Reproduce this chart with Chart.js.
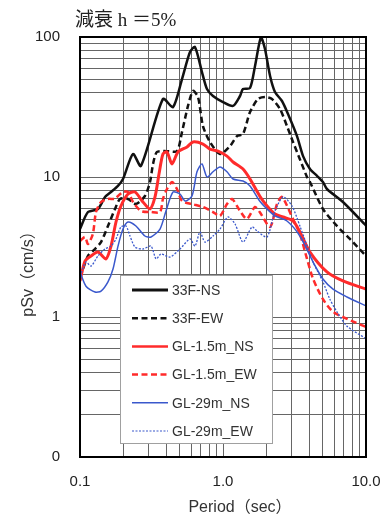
<!DOCTYPE html>
<html><head><meta charset="utf-8">
<script src="https://cdn.jsdelivr.net/npm/chart.js@4"></script>
<style>html,body{margin:0;padding:0;background:#fff;}#wrap{width:383px;height:518px;}</style>
</head><body><div id="wrap"><canvas id="c" width="383" height="518"></canvas></div>
<script>
// ---- data (period in sec, pSv in cm/s) ----
const seriesNames = ['33F-NS','33F-EW','GL-1.5m_NS','GL-1.5m_EW','GL-29m_NS','GL-29m_EW'];

const period_33F_NS = [0.1,0.1137,0.1336,0.1496,0.1648,0.1842,0.1998,0.2348,0.2669,0.3803,0.447,0.517,0.5877,0.637,0.7127,0.7726,0.8512,1.0,1.175,1.315,1.38,1.545,1.675,1.844,1.966,2.134,2.309,2.585,2.848,3.292,3.63,4.056,4.543,5.0,5.33,6.9,10];
const psv_33F_NS = [4.25,5.62,5.91,7.2,7.81,8.63,9.68,14.6,12.0,36.1,31.6,50.1,78.1,84.8,56.2,42.5,37.9,34.3,32.2,37.9,42.5,43.2,62.1,100,82.1,52.7,40.5,34.9,28.2,19.6,14.1,11.4,10.2,9.21,8.21,6.63,4.5];

const period_33F_EW = [0.1,0.1049,0.1137,0.1273,0.1403,0.1569,0.1757,0.1905,0.2166,0.2462,0.2845,0.3087,0.3243,0.3455,0.4058,0.4767,0.517,0.569,0.6168,0.6686,0.7243,0.8105,0.9529,1.119,1.253,1.38,1.545,1.757,1.966,2.2,2.504,2.802,3.087,3.449,3.868,4.056,5.0,6.26,7.72,10];
const psv_33F_EW = [1.93,2.2,2.73,3.06,3.43,4.47,5.91,6.97,6.97,6.41,7.32,9.21,12.4,15.1,15.3,15.3,21.0,32.2,41.2,37.3,23.1,17.8,14.6,16.6,19.6,20.3,29.1,36.1,37.3,36.1,30.6,23.1,17.8,13.4,10.0,9.21,5.91,4.47,3.61,2.73];

const period_GL15_NS = [0.1,0.1084,0.1194,0.1336,0.152,0.1648,0.1785,0.1934,0.2166,0.2424,0.2756,0.3087,0.3346,0.3568,0.3803,0.4058,0.4399,0.4845,0.5603,0.6168,0.7243,0.8105,0.9226,1.066,1.175,1.38,1.545,1.805,2.033,2.309,2.63,3.087,3.449,4.056,5.33,6.9,10];
const psv_GL15_NS = [1.81,2.51,2.73,2.91,2.6,3.21,4.77,6.21,7.56,7.81,6.63,5.91,7.2,10.5,14.6,15.1,12.4,15.1,16.4,17.8,17.2,15.8,15.3,14.1,12.8,11.4,9.68,7.32,6.21,5.44,5.18,4.85,4.05,2.91,2.1,1.81,1.58];

const period_GL15_EW = [0.1,0.1084,0.1137,0.123,0.1294,0.1403,0.1569,0.1757,0.1844,0.1998,0.2166,0.2348,0.2669,0.3137,0.3626,0.3803,0.4058,0.4399,0.4767,0.517,0.6069,0.7243,0.8512,0.9529,1.066,1.156,1.315,1.468,1.675,1.805,2.134,2.386,2.585,3.087,3.449,3.868,4.265,5.0,5.88,7.36,10];
const psv_GL15_EW = [3.49,3.73,3.32,3.92,5.62,6.63,6.97,6.97,7.32,7.81,7.81,6.63,5.72,5.62,5.62,6.97,8.21,9.21,8.21,6.74,6.41,6.11,5.62,5.27,6.41,6.97,5.72,5.01,6.11,5.62,4.4,6.41,7.2,5.01,3.92,2.6,1.87,1.34,1.09,0.97,0.85];

const period_GL29_NS = [0.1,0.1101,0.1273,0.1403,0.1569,0.1701,0.1844,0.1998,0.2166,0.2462,0.2845,0.3137,0.3626,0.3993,0.447,0.5004,0.5424,0.6069,0.6579,0.7127,0.7726,0.8512,0.9529,1.066,1.175,1.38,1.545,1.805,2.033,2.309,2.802,3.449,4.265,5.0,5.88,7.36,10];
const psv_GL29_NS = [2.1,1.66,1.51,1.53,1.78,2.2,3.21,4.25,4.77,4.47,3.79,3.73,4.25,5.72,7.81,7.56,6.74,7.32,10.9,12.4,10.0,10.9,11.8,10.9,9.68,9.36,8.63,6.74,5.91,5.27,4.85,3.79,2.47,1.87,1.58,1.39,1.2];

const period_GL29_EW = [0.1,0.1101,0.1194,0.1336,0.1496,0.1648,0.1785,0.1934,0.2098,0.2236,0.2424,0.2756,0.3137,0.3402,0.3683,0.426,0.5004,0.5877,0.637,0.6902,0.748,0.8512,0.9529,1.084,1.213,1.38,1.596,1.73,2.033,2.309,2.63,3.037,3.449,4.265,5.0,5.59,6.26,7.36,10];
const psv_GL29_EW = [1.96,2.47,2.31,2.73,3.06,3.21,3.61,4.4,4.47,3.79,3.16,3.06,3.21,2.6,2.82,2.68,3.06,3.61,3.21,4.05,3.43,3.79,4.25,5.18,4.62,3.43,4.4,4.11,3.73,5.72,7.2,6.21,4.47,2.47,1.78,1.34,1.09,0.86,0.7];

const xTickValues = [0.1, 1, 10];
const xTickLabels = ['0.1', '1.0', '10.0'];
const yTickValues = [0.1, 1, 10, 100];
const yTickLabels = ['0', '1', '10', '100'];

const chartTitle = '減衰 h ＝5%';
const xTitle = 'Period（sec）';
const yTitle = 'pSv（cm/s）';

// ---- helpers ----
function pts(xs, ys) { return xs.map((x, i) => ({x: x, y: ys[i]})); }
function gridVals(minExp, maxExp) {
  const out = [];
  for (let e = minExp; e < maxExp; e++) {
    for (let m = 1; m <= 9; m++) out.push(Number((m * Math.pow(10, e)).toPrecision(3)));
  }
  out.push(Number(Math.pow(10, maxExp).toPrecision(3)));
  return out;
}
function labelFor(v, vals, labels) {
  for (let i = 0; i < vals.length; i++) if (Math.abs(v - vals[i]) < 1e-9 * Math.max(1, vals[i])) return labels[i];
  return '';
}
function zeroPad(s) { s.paddingLeft = 0; s.paddingRight = 0; s.paddingTop = 0; s.paddingBottom = 0; }

const BLACK = '#111111', RED = '#ff2b2b', BLUE = '#3a58cc';
const styles = [
  {color: BLACK, w: 2.5, dash: [], lw: 3},
  {color: BLACK, w: 2.5, dash: [6, 3.5], lw: 2.5},
  {color: RED, w: 3, dash: [], lw: 2.5},
  {color: RED, w: 2.5, dash: [6, 3.5], lw: 2.5},
  {color: BLUE, w: 1.5, dash: [], lw: 1.5},
  {color: BLUE, w: 1.3, dash: [2, 1.5], lw: 1.2}
];
const seriesData = [
  pts(period_33F_NS, psv_33F_NS),
  pts(period_33F_EW, psv_33F_EW),
  pts(period_GL15_NS, psv_GL15_NS),
  pts(period_GL15_EW, psv_GL15_EW),
  pts(period_GL29_NS, psv_GL29_NS),
  pts(period_GL29_EW, psv_GL29_EW)
];

const datasets = seriesNames.map((n, i) => ({
  label: n,
  data: seriesData[i],
  borderColor: styles[i].color,
  borderWidth: styles[i].w,
  borderDash: styles[i].dash,
  pointRadius: 0,
  fill: false,
  tension: 0.25,
  borderJoinStyle: 'round',
  order: 6 - i
}));

const LABEL_FONT = '"Liberation Sans", Arial, sans-serif';
const GRID = '#666666';

const decorPlugin = {
  id: 'decor',
  afterDraw(chart) {
    const ctx = chart.ctx, ca = chart.chartArea;
    ctx.save();
    // frame
    ctx.strokeStyle = '#000';
    ctx.lineWidth = 2;
    ctx.setLineDash([]);
    ctx.strokeRect(ca.left, ca.top, ca.right - ca.left, ca.bottom - ca.top);

    // legend box
    const bx = ca.left + 40, by = ca.top + 238, bw = 152, bh = 168;
    ctx.fillStyle = '#fff';
    ctx.fillRect(bx, by, bw, bh);
    ctx.strokeStyle = '#a0a0a0';
    ctx.lineWidth = 1;
    ctx.strokeRect(bx + 0.5, by + 0.5, bw, bh);
    ctx.font = '14px ' + LABEL_FONT;
    ctx.textBaseline = 'middle';
    ctx.textAlign = 'left';
    seriesNames.forEach((n, i) => {
      const y = by + 15 + i * 28.2;
      ctx.beginPath();
      ctx.strokeStyle = styles[i].color;
      ctx.lineWidth = styles[i].lw;
      ctx.setLineDash(styles[i].dash);
      ctx.moveTo(bx + 12, y);
      ctx.lineTo(bx + 48, y);
      ctx.stroke();
      ctx.setLineDash([]);
      ctx.fillStyle = '#333';
      ctx.fillText(n, bx + 52, y + 1);
    });

    // chart title
    ctx.fillStyle = '#222';
    ctx.font = '19px "Liberation Serif", "Noto Sans CJK JP", serif';
    ctx.textAlign = 'left';
    ctx.textBaseline = 'alphabetic';
    ctx.fillText(chartTitle, 75, 26);

    // x title
    ctx.font = '16px ' + LABEL_FONT + ', "Noto Sans CJK JP"';
    ctx.fillStyle = '#333';
    ctx.textAlign = 'center';
    ctx.textBaseline = 'middle';
    ctx.fillText(xTitle, 240, 508);

    // y title
    ctx.translate(29, 270);
    ctx.rotate(-Math.PI / 2);
    ctx.font = '16px ' + LABEL_FONT + ', "Noto Sans CJK JP"';
    ctx.fillText(yTitle, 0, 0);
    ctx.restore();
  }
};

new Chart(document.getElementById('c'), {
  type: 'line',
  data: {datasets: datasets},
  options: {
    responsive: false,
    animation: false,
    layout: {padding: {left: 0, right: 17, top: 37, bottom: 0}},
    plugins: {legend: {display: false}, tooltip: {enabled: false}, title: {display: false}},
    scales: {
      x: {
        type: 'logarithmic', position: 'bottom', min: 0.1, max: 10,
        afterBuildTicks: s => { s.ticks = gridVals(-1, 1).map(v => ({value: v})); },
        afterFit: s => { s.height = 61; zeroPad(s); },
        grid: {color: GRID, lineWidth: 1, drawTicks: false},
        border: {display: false},
        ticks: {
          autoSkip: false, maxRotation: 0, minRotation: 0, padding: 16, color: '#222',
          font: {family: LABEL_FONT, size: 15},
          callback: v => labelFor(v, xTickValues, xTickLabels)
        }
      },
      y: {
        type: 'logarithmic', position: 'left', min: 0.1, max: 100,
        afterBuildTicks: s => { s.ticks = gridVals(-1, 2).map(v => ({value: v})); },
        afterFit: s => { s.width = 80; zeroPad(s); },
        grid: {color: GRID, lineWidth: 1, drawTicks: false},
        border: {display: false},
        ticks: {
          autoSkip: false, padding: 20, color: '#222',
          font: {family: LABEL_FONT, size: 15},
          callback: v => labelFor(v, yTickValues, yTickLabels)
        }
      }
    }
  },
  plugins: [decorPlugin]
});
</script>
</body></html>
